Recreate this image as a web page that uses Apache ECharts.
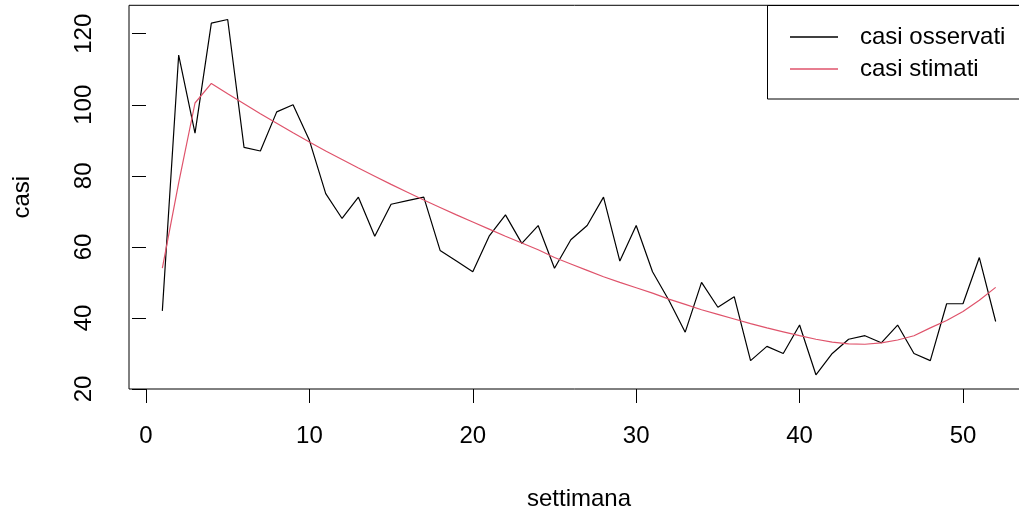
<!DOCTYPE html>
<html>
<head>
<meta charset="utf-8">
<title>casi per settimana</title>
<script src="https://cdn.jsdelivr.net/npm/echarts@6/dist/echarts.min.js"></script>
<style>
  html, body { margin: 0; padding: 0; background: #ffffff; }
  #chart { width: 1019px; height: 513px; }
</style>
</head>
<body>
<div id="chart"></div>
<script>
// Weekly cases: observed counts and the fitted estimate
const weeks = [1,2,3,4,5,6,7,8,9,10,11,12,13,14,15,16,17,18,19,20,21,22,23,24,25,26,
               27,28,29,30,31,32,33,34,35,36,37,38,39,40,41,42,43,44,45,46,47,48,49,50,51,52];
const casiOsservati = [42,114,92,123,124,88,87,98,100,90,75,68,74,63,72,73,74,59,56,53,63,69,61,66,54,62,
                       66,74,56,66,53,45,36,50,43,46,28,32,30,38,24,30,34,35,33,38,30,28,44,44,57,39];
const casiStimati = [54,78,100.5,106,103.1,100.3,97.5,94.8,92.1,89.5,87.0,84.6,82.2,79.9,77.6,75.4,73.2,71.1,69.0,67.0,
                     65.0,63.0,61.1,59.2,57.0,55.2,53.4,51.6,50.0,48.5,47.0,45.3,43.8,42.3,41.0,39.7,38.4,37.2,36.1,35.0,
                     34.0,33.2,32.7,32.6,33.0,33.8,35.0,37.2,39.3,41.8,45.0,48.6];
const xTicks = [0,10,20,30,40,50];
const yTicks = [20,40,60,80,100,120];
const seriesNames = ['casi osservati', 'casi stimati'];
const xTitle = 'settimana';
const yTitle = 'casi';

const FONT = '"Liberation Sans", Arial, sans-serif';
const FS = 24;
const pairs = vals => weeks.map((w, i) => [w, vals[i]]);

const chart = echarts.init(document.getElementById('chart'), null, { renderer: 'canvas' });
chart.setOption({
  animation: false,
  backgroundColor: '#ffffff',
  grid: {
    left: 129, top: 5.3, width: 900, height: 383.7,
    outerBoundsMode: 'none', containLabel: false,
    show: true, borderColor: '#000000', borderWidth: 1, backgroundColor: 'transparent'
  },
  xAxis: {
    type: 'value', min: -1.04, max: 54.04,
    name: xTitle, nameLocation: 'middle', nameGap: 98,
    nameTextStyle: { fontFamily: FONT, fontSize: FS, color: '#000' },
    axisLine: { show: false },
    splitLine: { show: false },
    axisTick: { show: true, length: 14, customValues: xTicks, lineStyle: { color: '#000', width: 1 } },
    axisLabel: { customValues: xTicks, margin: 35, fontFamily: FONT, fontSize: FS, color: '#000' }
  },
  yAxis: {
    type: 'value', min: 20, max: 128,
    name: yTitle, nameLocation: 'middle', nameGap: 95, nameRotate: 90,
    nameTextStyle: { fontFamily: FONT, fontSize: FS, color: '#000' },
    axisLine: { show: false },
    splitLine: { show: false },
    axisTick: { show: true, length: 14, customValues: yTicks, lineStyle: { color: '#000', width: 1 } },
    axisLabel: { customValues: yTicks, rotate: 90, margin: 33, fontFamily: FONT, fontSize: FS, color: '#000' }
  },
  legend: {
    orient: 'vertical', left: 790, top: 25, padding: 0,
    itemWidth: 48, itemHeight: 1.3, itemGap: 8, icon: 'rect',
    textStyle: { fontFamily: FONT, fontSize: FS, color: '#000', lineHeight: 24, padding: [0, 0, 0, 17] },
    data: seriesNames
  },
  graphic: [{
    type: 'rect', z: 100, silent: true,
    shape: { x: 767.5, y: 5.5, width: 300, height: 93.5 },
    style: { fill: 'transparent', stroke: '#000', lineWidth: 1 }
  }],
  series: [
    {
      name: seriesNames[0], type: 'line', data: pairs(casiOsservati),
      symbol: 'none', color: '#000000', lineStyle: { color: '#000000', width: 1.2 }
    },
    {
      name: seriesNames[1], type: 'line', data: pairs(casiStimati),
      symbol: 'none', color: '#DF536B', lineStyle: { color: '#DF536B', width: 1.2 }
    }
  ]
});
</script>
</body>
</html>
